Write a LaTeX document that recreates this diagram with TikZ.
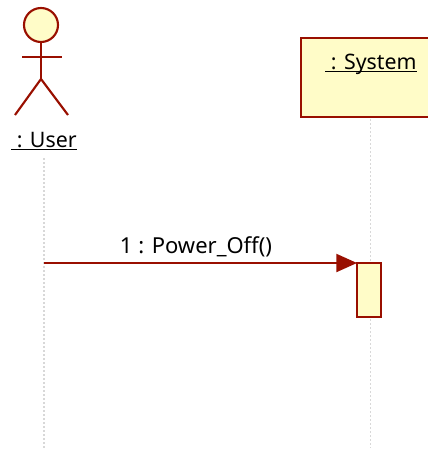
\documentclass[tikz,border=0pt]{standalone}
\usepackage{fontspec}
\setmainfont{Noto Sans}
\usetikzlibrary{arrows.meta}
\definecolor{umlred}{HTML}{990F00}
\definecolor{umlfill}{HTML}{FFFCC8}
\definecolor{lifegray}{HTML}{D8D8D8}
\newcommand{\uline}[1]{\underline{\smash{#1}}}
\tikzset{
  x=0.75pt,y=-0.75pt,
  limb/.style={draw=umlred,line width=1.6pt},
  lifeline/.style={draw=lifegray,line width=0.9pt,dash pattern=on 1.5pt off 1.5pt},
  boxed/.style={draw=umlred,fill=umlfill,line width=1.6pt,inner sep=0pt,outer sep=0pt,minimum width=0pt},
  lbl/.style={inner sep=0pt,outer sep=0pt,anchor=base,font=\fontsize{16}{19}\selectfont},
  msglbl/.style={lbl,font=\fontsize{16.5}{19}\selectfont},
  msg/.style={draw=umlred,line width=1.5pt,-{Triangle[length=15.5pt,width=13.5pt]}},
}
\begin{document}
\begin{tikzpicture}
\useasboundingbox (0,0) rectangle (428,450);
% actor
\node[boxed,circle,minimum size=25.5pt] (head) at (41,25) {};
\coordinate (hip) at (41,79);
\coordinate (armL) at (22,57);
\coordinate (armR) at (62,57);
\coordinate (footL) at (15,115);
\coordinate (footR) at (68,115);
\draw[limb] (head.south) -- (hip);
\draw[limb] (armL) -- (armR);
\draw[limb] (footL) -- (hip) -- (footR);
\node[lbl] (user) at (44,147) {\uline{\ : User}};
% system
\draw[boxed] (301,38) rectangle (432,117);
\coordinate (sysb) at (370.5,119);
\node[lbl] (system) at (371,69) {\uline{\ : System}};
% lifelines
\coordinate (userb) at (44,158);
\coordinate (userEnd) at (44,448);
\coordinate (sysEnd) at (370.5,448);
\draw[lifeline] (userb) -- (userEnd);
\draw[lifeline] (sysb) -- (sysEnd);
% activation
\node[boxed,minimum width=18pt,minimum height=40.5pt] (act) at (369,290) {};
% message
\coordinate (msgStart) at (44,263);
\draw[msg] (msgStart) -- (act.north west);
\node[msglbl] (msglabel) at (196,253) {1 : Power\_Off()};
\end{tikzpicture}
\end{document}
